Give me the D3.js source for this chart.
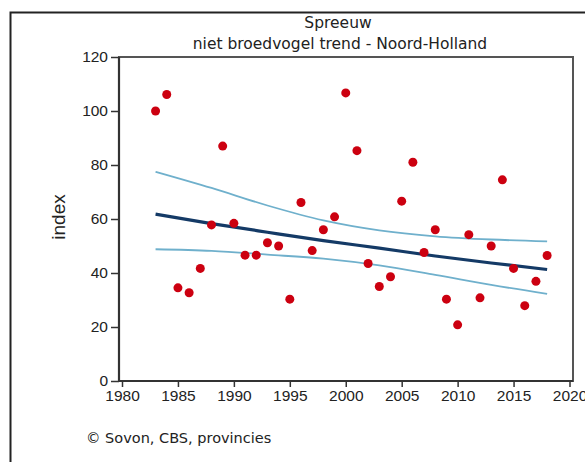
<!DOCTYPE html>
<html><head><meta charset="utf-8">
<script src="https://cdn.jsdelivr.net/npm/d3@7"></script>
<style>
html,body{margin:0;padding:0;background:#fff;}
svg{display:block;}
</style></head>
<body>
<script>
const years = [1983,1984,1985,1986,1987,1988,1989,1990,1991,1992,1993,1994,1995,1996,1997,1998,1999,2000,2001,2002,2003,2004,2005,2006,2007,2008,2009,2010,2011,2012,2013,2014,2015,2016,2017,2018];
const indexValues = [100,106.1,34.5,32.7,41.7,57.8,87.0,58.4,46.6,46.6,51.2,50.0,30.3,66.1,48.3,56.0,60.8,106.7,85.3,43.5,35.0,38.6,66.6,81.0,47.6,56.0,30.3,20.8,54.2,30.8,50.0,74.5,41.7,27.9,36.9,46.5];
const trendYears = [1983,1988,1993,1998,2003,2008,2013,2018];
const trendValues = [61.8,58.3,55.1,52.0,49.2,46.3,43.7,41.3];
const upperValues = [77.5,71.5,65.0,59.5,55.8,53.6,52.4,51.7];
const lowerValues = [48.8,48.2,46.8,45.3,42.8,39.3,35.6,32.3];
const xTicks = [1980,1985,1990,1995,2000,2005,2010,2015,2020];
const yTicks = [0,20,40,60,80,100,120];
const titleLines = ["Spreeuw","niet broedvogel trend - Noord-Holland"];
const yLabel = "index";
const footer = "\u00A9 Sovon, CBS, provincies";

const W=585,H=462;
const svg=d3.select("body").append("svg").attr("width",W).attr("height",H);

// outer frame
svg.append("rect").attr("x",10.5).attr("y",12.5).attr("width",W+20).attr("height",H+20)
  .attr("fill","none").attr("stroke","#222").attr("stroke-width",2);

const x=d3.scaleLinear().domain([1980,2020]).range([122,569.5]);
const y=d3.scaleLinear().domain([0,120]).range([381,57]);
const plotL=119, plotR=573, plotT=57, plotB=381;

// plot box
svg.append("rect").attr("x",plotL).attr("y",plotT).attr("width",plotR-plotL).attr("height",plotB-plotT)
  .attr("fill","none").attr("stroke","#555").attr("stroke-width",2);

// axes
const yAxis=svg.append("g").attr("transform",`translate(${plotL},0)`)
  .call(d3.axisLeft(y).tickValues(yTicks).tickSize(8).tickPadding(3));
const xAxis=svg.append("g").attr("transform",`translate(0,${plotB})`)
  .call(d3.axisBottom(x).tickValues(xTicks).tickFormat(d3.format("d")).tickSize(6).tickPadding(3));
[yAxis,xAxis].forEach(a=>{
  a.select(".domain").remove();
  a.selectAll(".tick line").attr("stroke","#333").attr("stroke-width",1.5);
  a.selectAll("text").attr("fill","#222").style("font-family","'Liberation Sans',Arial,sans-serif").style("font-size","15.5px");
});
svg.append("line").attr("x1",plotL).attr("x2",plotL).attr("y1",plotT).attr("y2",plotB).attr("stroke","#333").attr("stroke-width",2.2);
svg.append("line").attr("x1",plotL).attr("x2",plotR).attr("y1",plotB).attr("y2",plotB).attr("stroke","#333").attr("stroke-width",2.2);

// bands and trend
const line=(vals)=>d3.line().x((d,i)=>x(trendYears[i])).y(d=>y(d)).curve(d3.curveMonotoneX)(vals);
svg.append("path").attr("d",line(upperValues)).attr("fill","none").attr("stroke","#6fb0cc").attr("stroke-width",1.8);
svg.append("path").attr("d",line(lowerValues)).attr("fill","none").attr("stroke","#6fb0cc").attr("stroke-width",1.8);
svg.append("path").attr("d",line(trendValues)).attr("fill","none").attr("stroke","#143a66").attr("stroke-width",3.2);

// points
svg.append("g").selectAll("circle").data(indexValues).join("circle")
  .attr("cx",(d,i)=>x(years[i])).attr("cy",d=>y(d)).attr("r",4.5).attr("fill","#cc0010");

// titles
const tf="'DejaVu Sans',Verdana,sans-serif";
svg.append("text").attr("x",338).attr("y",28).attr("text-anchor","middle")
  .style("font-family",tf).style("font-size","15.5px").attr("fill","#222").text(titleLines[0]);
svg.append("text").attr("x",340).attr("y",49).attr("text-anchor","middle")
  .style("font-family",tf).style("font-size","15.5px").attr("fill","#222").text(titleLines[1]);

svg.append("text").attr("transform","translate(65,217) rotate(-90)").attr("text-anchor","middle")
  .style("font-family","'Liberation Sans',Arial,sans-serif").style("font-size","19px").attr("fill","#222").text(yLabel);

svg.append("text").attr("x",86).attr("y",443)
  .style("font-family",tf).style("font-size","14.5px").attr("fill","#222").text(footer);
</script>
</body></html>
